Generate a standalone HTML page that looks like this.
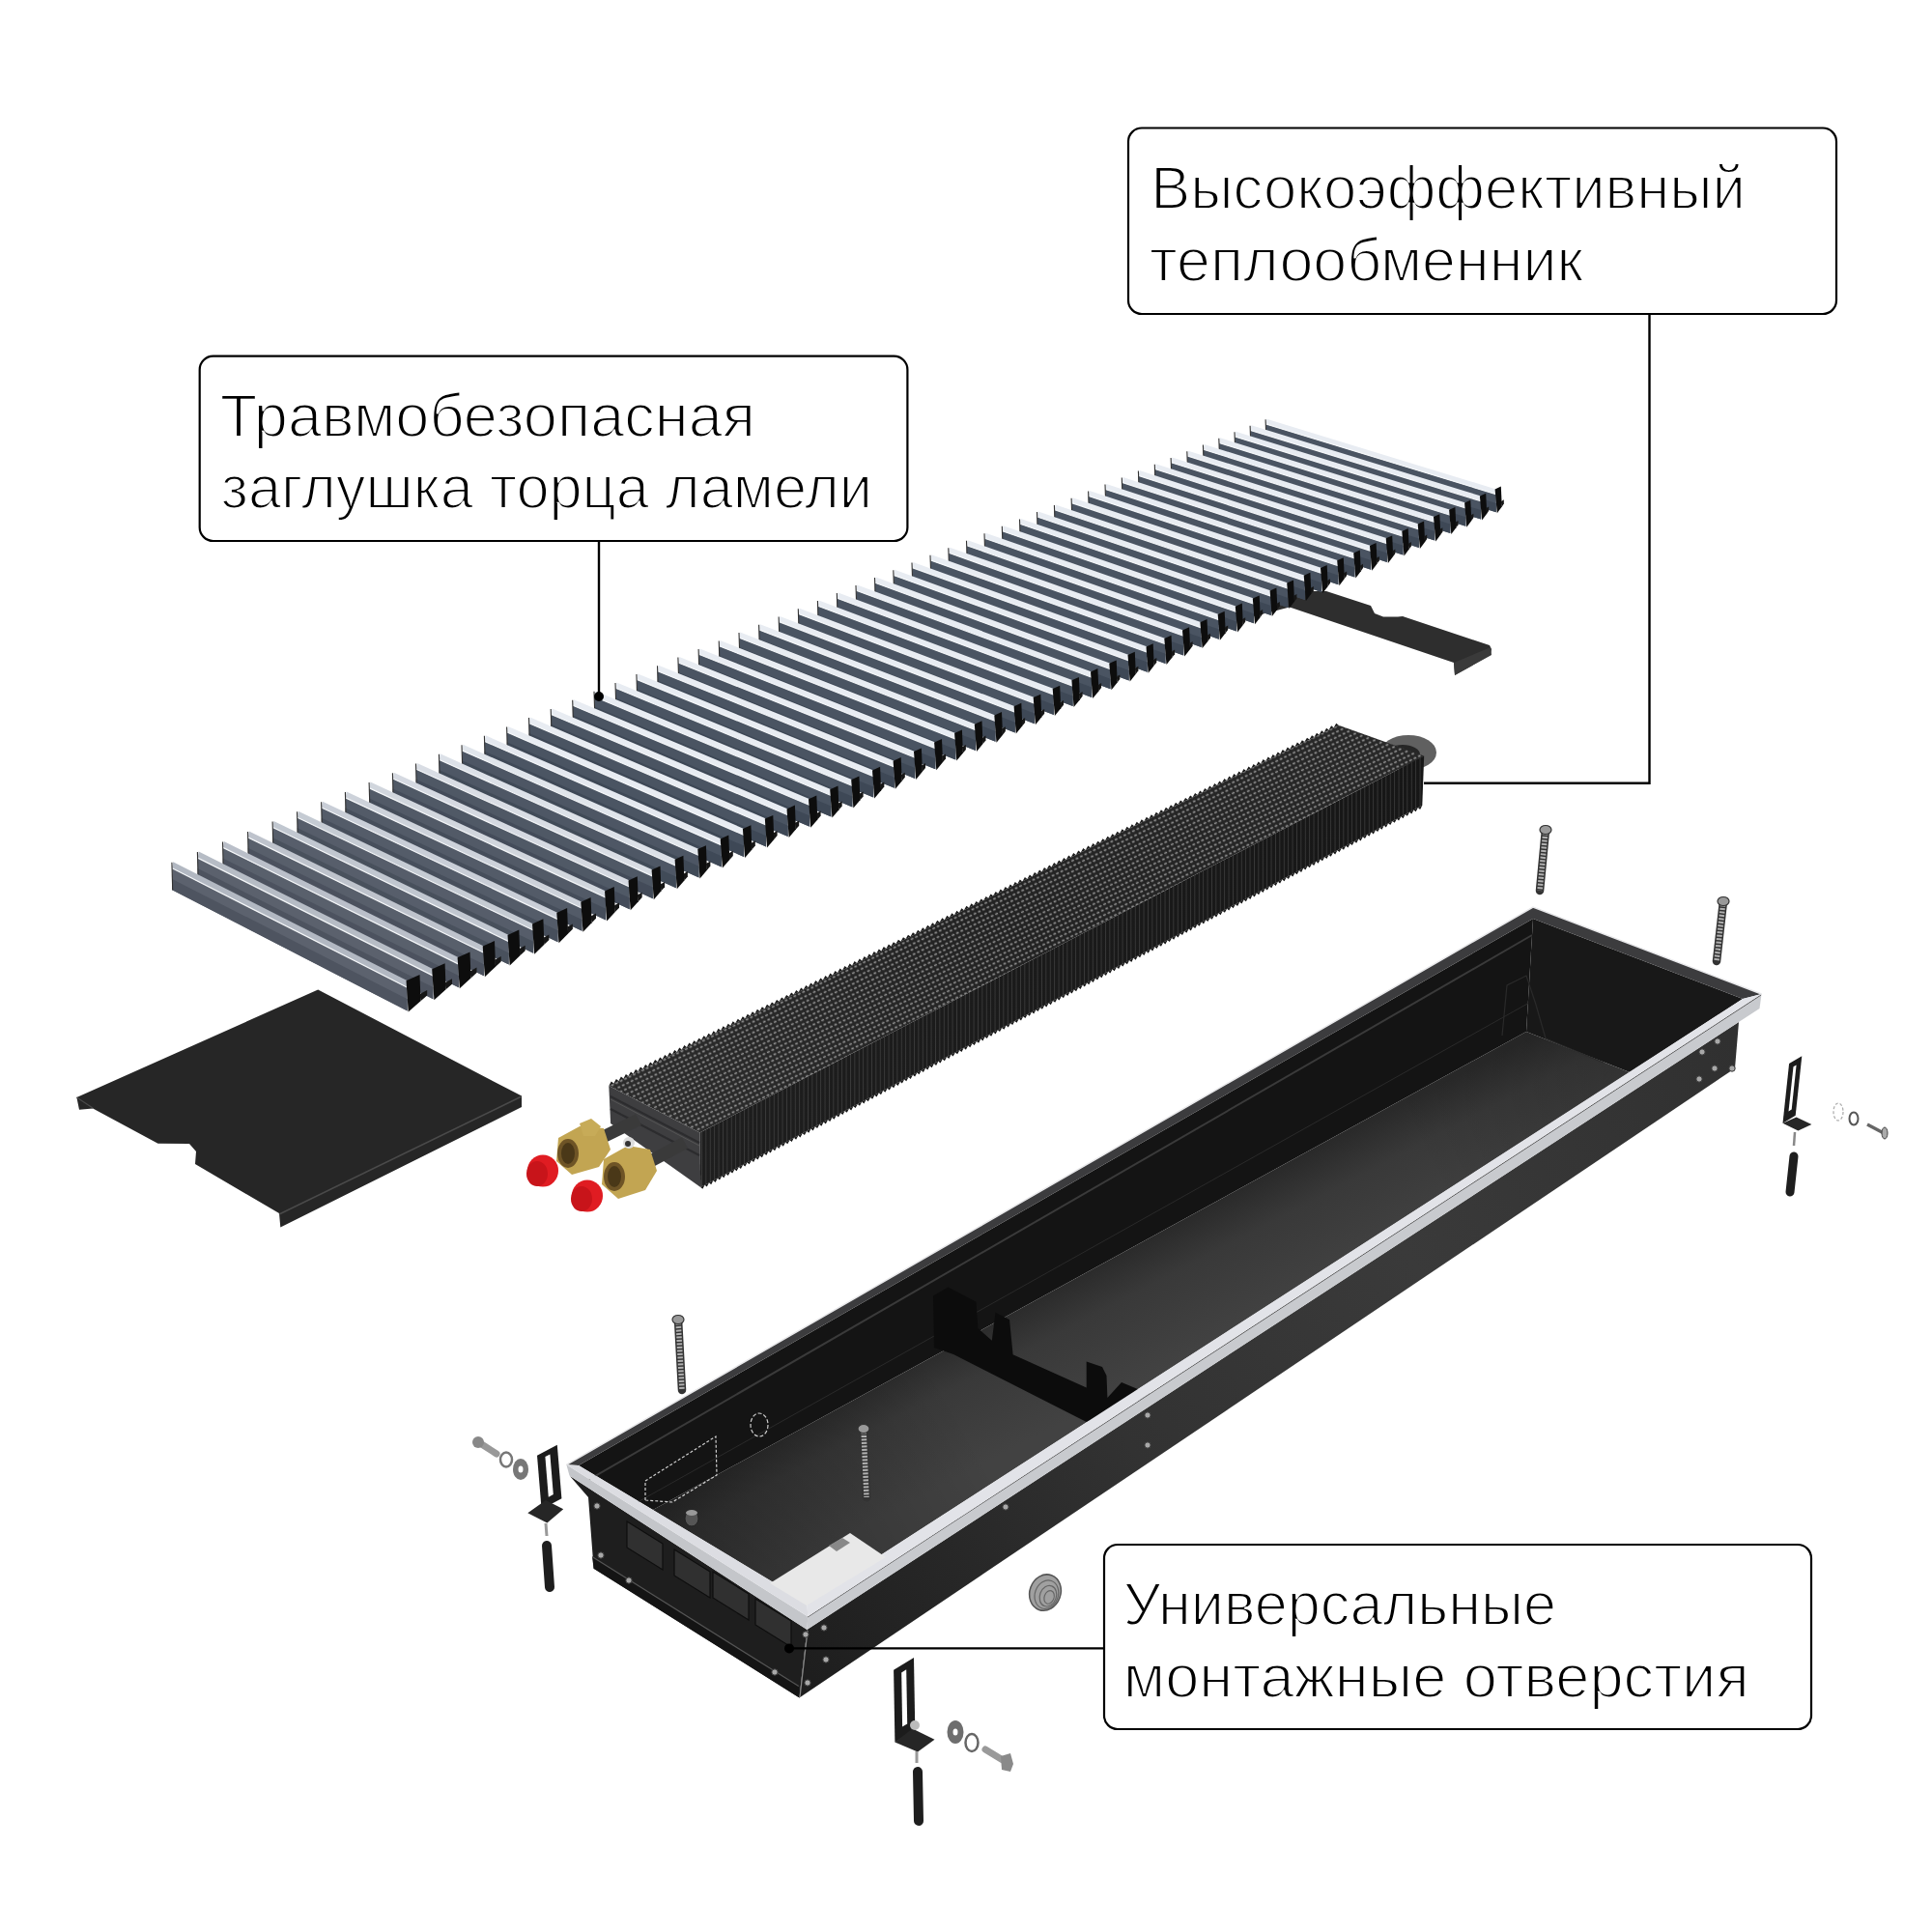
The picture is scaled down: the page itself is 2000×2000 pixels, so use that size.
<!DOCTYPE html>
<html><head><meta charset="utf-8"><style>
html,body{margin:0;padding:0;background:#fff;width:2000px;height:2000px;overflow:hidden}
svg{display:block}
text{font-family:"Liberation Sans",sans-serif;font-size:62.5px;fill:#000;stroke:#fff;stroke-width:2.0px}
</style></head><body>
<svg width="2000" height="2000" viewBox="0 0 2000 2000">
<defs>
<linearGradient id="slatface" x1="0" y1="0" x2="0" y2="1"><stop offset="0" stop-color="#6f7580"/><stop offset="1" stop-color="#5a5f68"/></linearGradient>
<linearGradient id="hetop" x1="0" y1="1" x2="1" y2="0"><stop offset="0" stop-color="#2c2c2c"/><stop offset="0.5" stop-color="#222"/><stop offset="1" stop-color="#282828"/></linearGradient>
<linearGradient id="heside" x1="0" y1="1" x2="1" y2="0"><stop offset="0" stop-color="#1e1e1e"/><stop offset="1" stop-color="#161616"/></linearGradient>
<pattern id="streaks" width="4.4" height="40" patternUnits="userSpaceOnUse"><rect x="0" y="0" width="0.9" height="40" fill="#5a5a5a"/></pattern>
<pattern id="dots" width="5" height="5" patternUnits="userSpaceOnUse" patternTransform="rotate(-26)"><rect width="5" height="5" fill="none"/><ellipse cx="2.5" cy="2.5" rx="1.6" ry="1.0" fill="#e8e8e8"/></pattern>
<linearGradient id="bodyface" gradientUnits="userSpaceOnUse" x1="830" y1="1720" x2="1800" y2="1080"><stop offset="0" stop-color="#1e1e1e"/><stop offset="0.35" stop-color="#323232"/><stop offset="0.65" stop-color="#3a3a3a"/><stop offset="1" stop-color="#303030"/></linearGradient>
<linearGradient id="floor" gradientUnits="userSpaceOnUse" x1="1180" y1="1285" x2="1240" y2="1400"><stop offset="0" stop-color="#2a2a2a"/><stop offset="0.35" stop-color="#393939"/><stop offset="1" stop-color="#424242"/></linearGradient>
<linearGradient id="floorshade" gradientUnits="userSpaceOnUse" x1="700" y1="1600" x2="1650" y2="1080"><stop offset="0" stop-color="#000" stop-opacity="0.3"/><stop offset="0.3" stop-color="#000" stop-opacity="0"/><stop offset="0.8" stop-color="#000" stop-opacity="0"/><stop offset="1" stop-color="#000" stop-opacity="0.15"/></linearGradient>
</defs>
<rect width="2000" height="2000" fill="#fff"/>
<rect x="1168" y="132.5" width="733" height="192.5" rx="14" fill="none" stroke="#000" stroke-width="2.2"/>
<rect x="206.7" y="368.7" width="732.7" height="191.3" rx="14" fill="none" stroke="#000" stroke-width="2.2"/>
<rect x="1143" y="1599" width="732" height="191" rx="14" fill="none" stroke="#000" stroke-width="2.2"/>
<polygon fill="#2e2e2e" points="1290,612 1373,612 1419,627 1423,635 1432,638.5 1447,638.5 1452,638 1542,668 1544,672 1543,678 1506,699 1505,686 1335,628.5 1290,640"/>
<polygon fill="#3a3a3a" points="1505,686 1543,670 1544,678 1506,699"/>
<polygon fill="#4a5462" points="1310.4,438.9 1548.8,511.7 1548.8,530.3 1310.4,456.3"/>
<polygon fill="#3e4856" points="1310.4,447.5 1548.8,520.9 1548.8,530.3 1310.4,456.3"/>
<polygon fill="#e8ecf2" points="1311.4,433.7 1548.8,506.4 1548.8,511.7 1310.4,438.9"/>
<line x1="1310.4" y1="438.9" x2="1548.8" y2="511.7" stroke="#f4f6f8" stroke-width="1.2"/>
<line x1="1310.1" y1="434.2" x2="1310.9" y2="456.3" stroke="#333" stroke-width="1.1"/>
<polygon fill="#0d0d0d" points="1547.6,506.4 1553.8,503.6 1554.8,524.6 1549.8,531.3"/>
<polygon fill="#161616" points="1553.8,519.2 1556.8,517.3 1556.8,521.6 1554.8,524.6"/>
<polygon fill="#4a5462" points="1294.4,445.4 1533.1,518.8 1533.1,537.5 1294.4,462.9"/>
<polygon fill="#3e4856" points="1294.4,454.0 1533.1,528.1 1533.1,537.5 1294.4,462.9"/>
<polygon fill="#e8ecf2" points="1295.4,440.2 1533.1,513.5 1533.1,518.8 1294.4,445.4"/>
<line x1="1294.4" y1="445.4" x2="1533.1" y2="518.8" stroke="#f4f6f8" stroke-width="1.2"/>
<line x1="1294.1" y1="440.7" x2="1294.9" y2="462.9" stroke="#333" stroke-width="1.1"/>
<polygon fill="#0d0d0d" points="1531.9,513.5 1538.2,510.7 1539.2,531.7 1534.1,538.5"/>
<polygon fill="#161616" points="1538.2,526.3 1541.2,524.5 1541.2,528.7 1539.2,531.7"/>
<polygon fill="#4a5462" points="1278.3,451.9 1517.3,526.0 1517.3,544.8 1278.3,469.5"/>
<polygon fill="#3e4856" points="1278.3,460.6 1517.3,535.3 1517.3,544.8 1278.3,469.5"/>
<polygon fill="#e8ecf2" points="1279.3,446.8 1517.3,520.6 1517.3,526.0 1278.3,451.9"/>
<line x1="1278.3" y1="451.9" x2="1517.3" y2="526.0" stroke="#f4f6f8" stroke-width="1.2"/>
<line x1="1278.0" y1="447.3" x2="1278.8" y2="469.5" stroke="#333" stroke-width="1.1"/>
<polygon fill="#0d0d0d" points="1516.1,520.6 1522.3,517.8 1523.3,539.0 1518.3,545.8"/>
<polygon fill="#161616" points="1522.3,533.5 1525.4,531.7 1525.4,535.9 1523.3,539.0"/>
<polygon fill="#4a5462" points="1262.1,458.5 1501.3,533.2 1501.3,552.1 1262.1,476.2"/>
<polygon fill="#3e4856" points="1262.1,467.2 1501.3,542.6 1501.3,552.1 1262.1,476.2"/>
<polygon fill="#e8ecf2" points="1263.1,453.3 1501.3,527.8 1501.3,533.2 1262.1,458.5"/>
<line x1="1262.1" y1="458.5" x2="1501.3" y2="533.2" stroke="#f4f6f8" stroke-width="1.2"/>
<line x1="1261.8" y1="453.8" x2="1262.6" y2="476.2" stroke="#333" stroke-width="1.1"/>
<polygon fill="#0d0d0d" points="1500.1,527.8 1506.4,525.0 1507.4,546.2 1502.3,553.1"/>
<polygon fill="#161616" points="1506.4,540.8 1509.5,538.9 1509.5,543.2 1507.4,546.2"/>
<polygon fill="#4a5462" points="1245.7,465.2 1485.2,540.5 1485.2,559.5 1245.7,482.9"/>
<polygon fill="#3e4856" points="1245.7,473.9 1485.2,549.9 1485.2,559.5 1245.7,482.9"/>
<polygon fill="#e8ecf2" points="1246.7,460.0 1485.2,535.1 1485.2,540.5 1245.7,465.2"/>
<line x1="1245.7" y1="465.2" x2="1485.2" y2="540.5" stroke="#f4f6f8" stroke-width="1.2"/>
<line x1="1245.4" y1="460.5" x2="1246.2" y2="482.9" stroke="#333" stroke-width="1.1"/>
<polygon fill="#0d0d0d" points="1484.0,535.1 1490.3,532.3 1491.3,553.6 1486.2,560.5"/>
<polygon fill="#161616" points="1490.3,548.1 1493.4,546.2 1493.4,550.5 1491.3,553.6"/>
<polygon fill="#4a5462" points="1229.1,471.9 1468.9,547.9 1468.9,566.9 1229.1,489.7"/>
<polygon fill="#3e4856" points="1229.1,480.7 1468.9,557.4 1468.9,566.9 1229.1,489.7"/>
<polygon fill="#e8ecf2" points="1230.1,466.7 1468.9,542.5 1468.9,547.9 1229.1,471.9"/>
<line x1="1229.1" y1="471.9" x2="1468.9" y2="547.9" stroke="#f4f6f8" stroke-width="1.2"/>
<line x1="1228.8" y1="467.2" x2="1229.6" y2="489.7" stroke="#333" stroke-width="1.1"/>
<polygon fill="#0d0d0d" points="1467.7,542.5 1474.1,539.6 1475.1,561.0 1469.9,567.9"/>
<polygon fill="#161616" points="1474.1,555.5 1477.2,553.6 1477.2,557.9 1475.1,561.0"/>
<polygon fill="#4a5462" points="1212.4,478.7 1452.5,555.3 1452.5,574.5 1212.4,496.5"/>
<polygon fill="#3e4856" points="1212.4,487.5 1452.5,564.8 1452.5,574.5 1212.4,496.5"/>
<polygon fill="#e8ecf2" points="1213.4,473.4 1452.5,549.9 1452.5,555.3 1212.4,478.7"/>
<line x1="1212.4" y1="478.7" x2="1452.5" y2="555.3" stroke="#f4f6f8" stroke-width="1.2"/>
<line x1="1212.1" y1="473.9" x2="1212.9" y2="496.5" stroke="#333" stroke-width="1.1"/>
<polygon fill="#0d0d0d" points="1451.3,549.9 1457.7,547.0 1458.7,568.5 1453.5,575.5"/>
<polygon fill="#161616" points="1457.7,562.9 1460.9,561.0 1460.9,565.4 1458.7,568.5"/>
<polygon fill="#4a5462" points="1195.6,485.5 1435.9,562.8 1435.9,582.0 1195.6,503.5"/>
<polygon fill="#3e4856" points="1195.6,494.4 1435.9,572.4 1435.9,582.0 1195.6,503.5"/>
<polygon fill="#e8ecf2" points="1196.6,480.2 1435.9,557.3 1435.9,562.8 1195.6,485.5"/>
<line x1="1195.6" y1="485.5" x2="1435.9" y2="562.8" stroke="#f4f6f8" stroke-width="1.2"/>
<line x1="1195.3" y1="480.7" x2="1196.1" y2="503.5" stroke="#333" stroke-width="1.1"/>
<polygon fill="#0d0d0d" points="1434.7,557.3 1441.2,554.4 1442.2,576.0 1436.9,583.0"/>
<polygon fill="#161616" points="1441.2,570.5 1444.4,568.5 1444.4,572.9 1442.2,576.0"/>
<polygon fill="#4a5462" points="1178.7,492.4 1419.2,570.4 1419.2,589.7 1178.7,510.4"/>
<polygon fill="#3e4856" points="1178.7,501.3 1419.2,580.0 1419.2,589.7 1178.7,510.4"/>
<polygon fill="#e8ecf2" points="1179.7,487.1 1419.2,564.9 1419.2,570.4 1178.7,492.4"/>
<line x1="1178.7" y1="492.4" x2="1419.2" y2="570.4" stroke="#f4f6f8" stroke-width="1.2"/>
<line x1="1178.4" y1="487.6" x2="1179.2" y2="510.4" stroke="#333" stroke-width="1.1"/>
<polygon fill="#0d0d0d" points="1418.0,564.9 1424.6,562.0 1425.6,583.6 1420.2,590.7"/>
<polygon fill="#161616" points="1424.6,578.0 1427.8,576.1 1427.8,580.5 1425.6,583.6"/>
<polygon fill="#4a5462" points="1161.6,499.4 1402.4,578.0 1402.4,597.4 1161.6,517.4"/>
<polygon fill="#3e4856" points="1161.6,508.3 1402.4,587.6 1402.4,597.4 1161.6,517.4"/>
<polygon fill="#e8ecf2" points="1162.6,494.0 1402.4,572.5 1402.4,578.0 1161.6,499.4"/>
<line x1="1161.6" y1="499.4" x2="1402.4" y2="578.0" stroke="#f4f6f8" stroke-width="1.2"/>
<line x1="1161.3" y1="494.5" x2="1162.1" y2="517.4" stroke="#333" stroke-width="1.1"/>
<polygon fill="#0d0d0d" points="1401.2,572.5 1407.8,569.6 1408.8,591.3 1403.4,598.4"/>
<polygon fill="#161616" points="1407.8,585.7 1411.0,583.7 1411.0,588.1 1408.8,591.3"/>
<polygon fill="#4a5462" points="1144.3,506.4 1385.4,585.7 1385.4,605.2 1144.3,524.5"/>
<polygon fill="#3e4856" points="1144.3,515.3 1385.4,595.4 1385.4,605.2 1144.3,524.5"/>
<polygon fill="#e8ecf2" points="1145.3,501.0 1385.4,580.2 1385.4,585.7 1144.3,506.4"/>
<line x1="1144.3" y1="506.4" x2="1385.4" y2="585.7" stroke="#f4f6f8" stroke-width="1.2"/>
<line x1="1144.0" y1="501.5" x2="1144.8" y2="524.5" stroke="#333" stroke-width="1.1"/>
<polygon fill="#0d0d0d" points="1384.2,580.2 1390.8,577.2 1391.8,599.1 1386.4,606.2"/>
<polygon fill="#161616" points="1390.8,593.4 1394.1,591.5 1394.1,595.9 1391.8,599.1"/>
<polygon fill="#4a5462" points="1126.9,513.4 1368.2,593.5 1368.2,613.1 1126.9,531.7"/>
<polygon fill="#3e4856" points="1126.9,522.4 1368.2,603.2 1368.2,613.1 1126.9,531.7"/>
<polygon fill="#e8ecf2" points="1127.9,508.1 1368.2,587.9 1368.2,593.5 1126.9,513.4"/>
<line x1="1126.9" y1="513.4" x2="1368.2" y2="593.5" stroke="#f4f6f8" stroke-width="1.2"/>
<line x1="1126.6" y1="508.6" x2="1127.4" y2="531.7" stroke="#333" stroke-width="1.1"/>
<polygon fill="#0d0d0d" points="1367.0,587.9 1373.7,584.9 1374.7,606.9 1369.2,614.1"/>
<polygon fill="#161616" points="1373.7,601.2 1377.0,599.2 1377.0,603.7 1374.7,606.9"/>
<polygon fill="#4a5462" points="1109.4,520.6 1350.9,601.4 1350.9,621.0 1109.4,538.9"/>
<polygon fill="#3e4856" points="1109.4,529.6 1350.9,611.1 1350.9,621.0 1109.4,538.9"/>
<polygon fill="#e8ecf2" points="1110.4,515.2 1350.9,595.7 1350.9,601.4 1109.4,520.6"/>
<line x1="1109.4" y1="520.6" x2="1350.9" y2="601.4" stroke="#f4f6f8" stroke-width="1.2"/>
<line x1="1109.1" y1="515.7" x2="1109.9" y2="538.9" stroke="#333" stroke-width="1.1"/>
<polygon fill="#0d0d0d" points="1349.7,595.7 1356.4,592.7 1357.4,614.8 1351.9,622.0"/>
<polygon fill="#161616" points="1356.4,609.1 1359.8,607.1 1359.8,611.5 1357.4,614.8"/>
<polygon fill="#4a5462" points="1091.7,527.8 1333.4,609.3 1333.4,629.0 1091.7,546.2"/>
<polygon fill="#3e4856" points="1091.7,536.8 1333.4,619.0 1333.4,629.0 1091.7,546.2"/>
<polygon fill="#e8ecf2" points="1092.7,522.4 1333.4,603.6 1333.4,609.3 1091.7,527.8"/>
<line x1="1091.7" y1="527.8" x2="1333.4" y2="609.3" stroke="#f4f6f8" stroke-width="1.2"/>
<line x1="1091.4" y1="522.9" x2="1092.2" y2="546.2" stroke="#333" stroke-width="1.1"/>
<polygon fill="#0d0d0d" points="1332.2,603.6 1339.0,600.6 1340.0,622.7 1334.4,630.0"/>
<polygon fill="#161616" points="1339.0,617.0 1342.4,615.0 1342.4,619.5 1340.0,622.7"/>
<polygon fill="#4a5462" points="1073.8,535.0 1315.8,617.3 1315.8,637.1 1073.8,553.5"/>
<polygon fill="#3e4856" points="1073.8,544.1 1315.8,627.1 1315.8,637.1 1073.8,553.5"/>
<polygon fill="#e8ecf2" points="1074.8,529.6 1315.8,611.6 1315.8,617.3 1073.8,535.0"/>
<line x1="1073.8" y1="535.0" x2="1315.8" y2="617.3" stroke="#f4f6f8" stroke-width="1.2"/>
<line x1="1073.5" y1="530.1" x2="1074.3" y2="553.5" stroke="#333" stroke-width="1.1"/>
<polygon fill="#0d0d0d" points="1314.6,611.6 1321.4,608.5 1322.4,630.8 1316.8,638.1"/>
<polygon fill="#161616" points="1321.4,625.0 1324.8,623.0 1324.8,627.5 1322.4,630.8"/>
<polygon fill="#4a5462" points="1055.8,542.3 1298.0,625.3 1298.0,645.2 1055.8,560.9"/>
<polygon fill="#3e4856" points="1055.8,551.5 1298.0,635.2 1298.0,645.2 1055.8,560.9"/>
<polygon fill="#e8ecf2" points="1056.8,536.9 1298.0,619.6 1298.0,625.3 1055.8,542.3"/>
<line x1="1055.8" y1="542.3" x2="1298.0" y2="625.3" stroke="#f4f6f8" stroke-width="1.2"/>
<line x1="1055.5" y1="537.4" x2="1056.3" y2="560.9" stroke="#333" stroke-width="1.1"/>
<polygon fill="#0d0d0d" points="1296.8,619.6 1303.7,616.5 1304.7,638.9 1299.0,646.2"/>
<polygon fill="#161616" points="1303.7,633.1 1307.1,631.1 1307.1,635.6 1304.7,638.9"/>
<polygon fill="#4a5462" points="1037.6,549.7 1280.0,633.4 1280.0,653.4 1037.6,568.3"/>
<polygon fill="#3e4856" points="1037.6,558.9 1280.0,643.4 1280.0,653.4 1037.6,568.3"/>
<polygon fill="#e8ecf2" points="1038.6,544.2 1280.0,627.7 1280.0,633.4 1037.6,549.7"/>
<line x1="1037.6" y1="549.7" x2="1280.0" y2="633.4" stroke="#f4f6f8" stroke-width="1.2"/>
<line x1="1037.3" y1="544.7" x2="1038.1" y2="568.3" stroke="#333" stroke-width="1.1"/>
<polygon fill="#0d0d0d" points="1278.8,627.7 1285.8,624.6 1286.8,647.1 1281.0,654.4"/>
<polygon fill="#161616" points="1285.8,641.3 1289.2,639.2 1289.2,643.7 1286.8,647.1"/>
<polygon fill="#4a5462" points="1019.3,557.2 1261.9,641.7 1261.9,661.7 1019.3,575.9"/>
<polygon fill="#3e4856" points="1019.3,566.4 1261.9,651.6 1261.9,661.7 1019.3,575.9"/>
<polygon fill="#e8ecf2" points="1020.3,551.7 1261.9,635.9 1261.9,641.7 1019.3,557.2"/>
<line x1="1019.3" y1="557.2" x2="1261.9" y2="641.7" stroke="#f4f6f8" stroke-width="1.2"/>
<line x1="1019.0" y1="552.2" x2="1019.8" y2="575.9" stroke="#333" stroke-width="1.1"/>
<polygon fill="#0d0d0d" points="1260.7,635.9 1267.7,632.8 1268.7,655.3 1262.9,662.7"/>
<polygon fill="#161616" points="1267.7,649.5 1271.2,647.4 1271.2,652.0 1268.7,655.3"/>
<polygon fill="#4a5462" points="1000.8,564.7 1243.6,649.9 1243.6,670.1 1000.8,583.5"/>
<polygon fill="#3e4856" points="1000.8,573.9 1243.6,659.9 1243.6,670.1 1000.8,583.5"/>
<polygon fill="#e8ecf2" points="1001.8,559.2 1243.6,644.2 1243.6,649.9 1000.8,564.7"/>
<line x1="1000.8" y1="564.7" x2="1243.6" y2="649.9" stroke="#f4f6f8" stroke-width="1.2"/>
<line x1="1000.5" y1="559.7" x2="1001.3" y2="583.5" stroke="#333" stroke-width="1.1"/>
<polygon fill="#0d0d0d" points="1242.4,644.2 1249.5,641.0 1250.5,663.7 1244.6,671.1"/>
<polygon fill="#161616" points="1249.5,657.8 1253.0,655.7 1253.0,660.3 1250.5,663.7"/>
<polygon fill="#4a5462" points="982.1,572.3 1225.2,658.3 1225.2,678.6 982.1,591.1"/>
<polygon fill="#3e4856" points="982.1,581.6 1225.2,668.4 1225.2,678.6 982.1,591.1"/>
<polygon fill="#e8ecf2" points="983.1,566.7 1225.2,652.5 1225.2,658.3 982.1,572.3"/>
<line x1="982.1" y1="572.3" x2="1225.2" y2="658.3" stroke="#f4f6f8" stroke-width="1.2"/>
<line x1="981.8" y1="567.2" x2="982.6" y2="591.1" stroke="#333" stroke-width="1.1"/>
<polygon fill="#0d0d0d" points="1224.0,652.5 1231.1,649.3 1232.1,672.1 1226.2,679.6"/>
<polygon fill="#161616" points="1231.1,666.2 1234.6,664.1 1234.6,668.7 1232.1,672.1"/>
<polygon fill="#4a5462" points="963.3,579.9 1206.5,666.7 1206.5,687.1 963.3,598.9"/>
<polygon fill="#3e4856" points="963.3,589.3 1206.5,676.8 1206.5,687.1 963.3,598.9"/>
<polygon fill="#e8ecf2" points="964.3,574.3 1206.5,660.9 1206.5,666.7 963.3,579.9"/>
<line x1="963.3" y1="579.9" x2="1206.5" y2="666.7" stroke="#f4f6f8" stroke-width="1.2"/>
<line x1="963.0" y1="574.8" x2="963.8" y2="598.9" stroke="#333" stroke-width="1.1"/>
<polygon fill="#0d0d0d" points="1205.3,660.9 1212.5,657.7 1213.5,680.6 1207.5,688.1"/>
<polygon fill="#161616" points="1212.5,674.7 1216.1,672.5 1216.1,677.2 1213.5,680.6"/>
<polygon fill="#4a5462" points="944.3,587.6 1187.7,675.3 1187.7,695.7 944.3,606.7"/>
<polygon fill="#3e4856" points="944.3,597.0 1187.7,685.4 1187.7,695.7 944.3,606.7"/>
<polygon fill="#e8ecf2" points="945.3,582.0 1187.7,669.4 1187.7,675.3 944.3,587.6"/>
<line x1="944.3" y1="587.6" x2="1187.7" y2="675.3" stroke="#f4f6f8" stroke-width="1.2"/>
<line x1="944.0" y1="582.5" x2="944.8" y2="606.7" stroke="#333" stroke-width="1.1"/>
<polygon fill="#0d0d0d" points="1186.5,669.4 1193.7,666.2 1194.7,689.1 1188.7,696.7"/>
<polygon fill="#161616" points="1193.7,683.2 1197.3,681.1 1197.3,685.7 1194.7,689.1"/>
<polygon fill="#4a5462" points="925.1,595.4 1168.7,683.9 1168.7,704.4 925.1,614.5"/>
<polygon fill="#3e4856" points="925.1,604.8 1168.7,694.1 1168.7,704.4 925.1,614.5"/>
<polygon fill="#e8ecf2" points="926.1,589.8 1168.7,678.0 1168.7,683.9 925.1,595.4"/>
<line x1="925.1" y1="595.4" x2="1168.7" y2="683.9" stroke="#f4f6f8" stroke-width="1.2"/>
<line x1="924.8" y1="590.3" x2="925.6" y2="614.5" stroke="#333" stroke-width="1.1"/>
<polygon fill="#0d0d0d" points="1167.5,678.0 1174.8,674.8 1175.8,697.8 1169.7,705.4"/>
<polygon fill="#161616" points="1174.8,691.8 1178.4,689.7 1178.4,694.3 1175.8,697.8"/>
<polygon fill="#4a5462" points="905.8,603.3 1149.5,692.6 1149.5,713.2 905.8,622.5"/>
<polygon fill="#3e4856" points="905.8,612.7 1149.5,702.8 1149.5,713.2 905.8,622.5"/>
<polygon fill="#e8ecf2" points="906.8,597.6 1149.5,686.7 1149.5,692.6 905.8,603.3"/>
<line x1="905.8" y1="603.3" x2="1149.5" y2="692.6" stroke="#f4f6f8" stroke-width="1.2"/>
<line x1="905.5" y1="598.1" x2="906.3" y2="622.5" stroke="#333" stroke-width="1.1"/>
<polygon fill="#0d0d0d" points="1148.3,686.7 1155.7,683.4 1156.7,706.5 1150.5,714.2"/>
<polygon fill="#161616" points="1155.7,700.5 1159.3,698.4 1159.3,703.1 1156.7,706.5"/>
<polygon fill="#4a5462" points="886.3,611.2 1130.2,701.3 1130.2,722.1 886.3,630.5"/>
<polygon fill="#3e4856" points="886.3,620.7 1130.2,711.6 1130.2,722.1 886.3,630.5"/>
<polygon fill="#e8ecf2" points="887.3,605.5 1130.2,695.4 1130.2,701.3 886.3,611.2"/>
<line x1="886.3" y1="611.2" x2="1130.2" y2="701.3" stroke="#f4f6f8" stroke-width="1.2"/>
<line x1="886.0" y1="606.0" x2="886.8" y2="630.5" stroke="#333" stroke-width="1.1"/>
<polygon fill="#0d0d0d" points="1129.0,695.4 1136.4,692.1 1137.4,715.4 1131.2,723.1"/>
<polygon fill="#161616" points="1136.4,709.3 1140.1,707.1 1140.1,711.9 1137.4,715.4"/>
<polygon fill="#4a5462" points="866.6,619.2 1110.6,710.2 1110.6,731.0 866.6,638.6"/>
<polygon fill="#3e4856" points="866.6,628.8 1110.6,720.5 1110.6,731.0 866.6,638.6"/>
<polygon fill="#e8ecf2" points="867.6,613.5 1110.6,704.2 1110.6,710.2 866.6,619.2"/>
<line x1="866.6" y1="619.2" x2="1110.6" y2="710.2" stroke="#f4f6f8" stroke-width="1.2"/>
<line x1="866.3" y1="614.0" x2="867.1" y2="638.6" stroke="#333" stroke-width="1.1"/>
<polygon fill="#0d0d0d" points="1109.4,704.2 1116.9,700.9 1117.9,724.3 1111.6,732.0"/>
<polygon fill="#161616" points="1116.9,718.2 1120.6,716.0 1120.6,720.7 1117.9,724.3"/>
<polygon fill="#4a5462" points="846.7,627.3 1090.9,719.1 1090.9,740.1 846.7,646.8"/>
<polygon fill="#3e4856" points="846.7,636.9 1090.9,729.5 1090.9,740.1 846.7,646.8"/>
<polygon fill="#e8ecf2" points="847.7,621.6 1090.9,713.1 1090.9,719.1 846.7,627.3"/>
<line x1="846.7" y1="627.3" x2="1090.9" y2="719.1" stroke="#f4f6f8" stroke-width="1.2"/>
<line x1="846.4" y1="622.1" x2="847.2" y2="646.8" stroke="#333" stroke-width="1.1"/>
<polygon fill="#0d0d0d" points="1089.7,713.1 1097.2,709.8 1098.2,733.3 1091.9,741.1"/>
<polygon fill="#161616" points="1097.2,727.2 1101.0,724.9 1101.0,729.7 1098.2,733.3"/>
<polygon fill="#4a5462" points="826.6,635.4 1070.9,728.1 1070.9,749.2 826.6,655.0"/>
<polygon fill="#3e4856" points="826.6,645.1 1070.9,738.6 1070.9,749.2 826.6,655.0"/>
<polygon fill="#e8ecf2" points="827.6,629.7 1070.9,722.1 1070.9,728.1 826.6,635.4"/>
<line x1="826.6" y1="635.4" x2="1070.9" y2="728.1" stroke="#f4f6f8" stroke-width="1.2"/>
<line x1="826.3" y1="630.2" x2="827.1" y2="655.0" stroke="#333" stroke-width="1.1"/>
<polygon fill="#0d0d0d" points="1069.7,722.1 1077.3,718.8 1078.3,742.3 1071.9,750.2"/>
<polygon fill="#161616" points="1077.3,736.2 1081.2,734.0 1081.2,738.8 1078.3,742.3"/>
<polygon fill="#4a5462" points="806.4,643.6 1050.8,737.3 1050.8,758.4 806.4,663.3"/>
<polygon fill="#3e4856" points="806.4,653.4 1050.8,747.7 1050.8,758.4 806.4,663.3"/>
<polygon fill="#e8ecf2" points="807.4,637.9 1050.8,731.2 1050.8,737.3 806.4,643.6"/>
<line x1="806.4" y1="643.6" x2="1050.8" y2="737.3" stroke="#f4f6f8" stroke-width="1.2"/>
<line x1="806.1" y1="638.4" x2="806.9" y2="663.3" stroke="#333" stroke-width="1.1"/>
<polygon fill="#0d0d0d" points="1049.6,731.2 1057.3,727.8 1058.3,751.5 1051.8,759.4"/>
<polygon fill="#161616" points="1057.3,745.4 1061.1,743.1 1061.1,747.9 1058.3,751.5"/>
<polygon fill="#4a5462" points="785.9,651.9 1030.5,746.5 1030.5,767.7 785.9,671.7"/>
<polygon fill="#3e4856" points="785.9,661.7 1030.5,757.0 1030.5,767.7 785.9,671.7"/>
<polygon fill="#e8ecf2" points="786.9,646.2 1030.5,740.4 1030.5,746.5 785.9,651.9"/>
<line x1="785.9" y1="651.9" x2="1030.5" y2="746.5" stroke="#f4f6f8" stroke-width="1.2"/>
<line x1="785.6" y1="646.7" x2="786.4" y2="671.7" stroke="#333" stroke-width="1.1"/>
<polygon fill="#0d0d0d" points="1029.3,740.4 1037.0,737.0 1038.0,760.8 1031.5,768.7"/>
<polygon fill="#161616" points="1037.0,754.6 1040.9,752.3 1040.9,757.1 1038.0,760.8"/>
<polygon fill="#4a5462" points="765.3,660.3 1010.0,755.8 1010.0,777.1 765.3,680.2"/>
<polygon fill="#3e4856" points="765.3,670.1 1010.0,766.3 1010.0,777.1 765.3,680.2"/>
<polygon fill="#e8ecf2" points="766.3,654.5 1010.0,749.7 1010.0,755.8 765.3,660.3"/>
<line x1="765.3" y1="660.3" x2="1010.0" y2="755.8" stroke="#f4f6f8" stroke-width="1.2"/>
<line x1="765.0" y1="655.0" x2="765.8" y2="680.2" stroke="#333" stroke-width="1.1"/>
<polygon fill="#0d0d0d" points="1008.8,749.7 1016.5,746.2 1017.5,770.1 1011.0,778.1"/>
<polygon fill="#161616" points="1016.5,763.9 1020.5,761.6 1020.5,766.5 1017.5,770.1"/>
<polygon fill="#4a5462" points="744.5,668.8 989.3,765.1 989.3,786.6 744.5,688.7"/>
<polygon fill="#3e4856" points="744.5,678.6 989.3,775.8 989.3,786.6 744.5,688.7"/>
<polygon fill="#e8ecf2" points="745.5,663.0 989.3,759.0 989.3,765.1 744.5,668.8"/>
<line x1="744.5" y1="668.8" x2="989.3" y2="765.1" stroke="#f4f6f8" stroke-width="1.2"/>
<line x1="744.2" y1="663.5" x2="745.0" y2="688.7" stroke="#333" stroke-width="1.1"/>
<polygon fill="#0d0d0d" points="988.1,759.0 995.9,755.5 996.9,779.6 990.3,787.6"/>
<polygon fill="#161616" points="995.9,773.3 999.9,771.0 999.9,775.9 996.9,779.6"/>
<polygon fill="#4a5462" points="723.4,677.3 968.3,774.6 968.3,796.2 723.4,697.4"/>
<polygon fill="#3e4856" points="723.4,687.2 968.3,785.3 968.3,796.2 723.4,697.4"/>
<polygon fill="#e8ecf2" points="724.4,671.5 968.3,768.5 968.3,774.6 723.4,677.3"/>
<line x1="723.4" y1="677.3" x2="968.3" y2="774.6" stroke="#f4f6f8" stroke-width="1.2"/>
<line x1="723.1" y1="672.0" x2="723.9" y2="697.4" stroke="#333" stroke-width="1.1"/>
<polygon fill="#0d0d0d" points="967.1,768.5 975.0,765.0 976.0,789.1 969.3,797.2"/>
<polygon fill="#161616" points="975.0,782.8 979.0,780.5 979.0,785.4 976.0,789.1"/>
<polygon fill="#4a5462" points="702.2,686.0 947.2,784.2 947.2,805.9 702.2,706.1"/>
<polygon fill="#3e4856" points="702.2,695.9 947.2,795.0 947.2,805.9 702.2,706.1"/>
<polygon fill="#e8ecf2" points="703.2,680.1 947.2,778.0 947.2,784.2 702.2,686.0"/>
<line x1="702.2" y1="686.0" x2="947.2" y2="784.2" stroke="#f4f6f8" stroke-width="1.2"/>
<line x1="701.9" y1="680.6" x2="702.7" y2="706.1" stroke="#333" stroke-width="1.1"/>
<polygon fill="#0d0d0d" points="946.0,778.0 953.9,774.5 954.9,798.7 948.2,806.9"/>
<polygon fill="#161616" points="953.9,792.4 958.0,790.1 958.0,795.0 954.9,798.7"/>
<polygon fill="#4a5462" points="680.8,694.7 925.8,793.9 925.8,815.7 680.8,714.9"/>
<polygon fill="#3e4856" points="680.8,704.6 925.8,804.7 925.8,815.7 680.8,714.9"/>
<polygon fill="#e8ecf2" points="681.8,688.8 925.8,787.7 925.8,793.9 680.8,694.7"/>
<line x1="680.8" y1="694.7" x2="925.8" y2="793.9" stroke="#f4f6f8" stroke-width="1.2"/>
<line x1="680.5" y1="689.3" x2="681.3" y2="714.9" stroke="#333" stroke-width="1.1"/>
<polygon fill="#0d0d0d" points="924.6,787.7 932.7,784.1 933.7,808.5 926.8,816.7"/>
<polygon fill="#161616" points="932.7,802.1 936.8,799.7 936.8,804.7 933.7,808.5"/>
<polygon fill="#4a5462" points="659.2,703.4 904.2,803.6 904.2,825.6 659.2,723.8"/>
<polygon fill="#3e4856" points="659.2,713.5 904.2,814.5 904.2,825.6 659.2,723.8"/>
<polygon fill="#e8ecf2" points="660.2,697.5 904.2,797.4 904.2,803.6 659.2,703.4"/>
<line x1="659.2" y1="703.4" x2="904.2" y2="803.6" stroke="#f4f6f8" stroke-width="1.2"/>
<line x1="658.9" y1="698.0" x2="659.7" y2="723.8" stroke="#333" stroke-width="1.1"/>
<polygon fill="#0d0d0d" points="903.0,797.4 911.1,793.8 912.1,818.3 905.2,826.6"/>
<polygon fill="#161616" points="911.1,811.9 915.3,809.5 915.3,814.5 912.1,818.3"/>
<polygon fill="#4a5462" points="637.3,712.3 882.4,813.5 882.4,835.5 637.3,732.8"/>
<polygon fill="#3e4856" points="637.3,722.4 882.4,824.4 882.4,835.5 637.3,732.8"/>
<polygon fill="#e8ecf2" points="638.3,706.4 882.4,807.3 882.4,813.5 637.3,712.3"/>
<line x1="637.3" y1="712.3" x2="882.4" y2="813.5" stroke="#f4f6f8" stroke-width="1.2"/>
<line x1="637.0" y1="706.9" x2="637.8" y2="732.8" stroke="#333" stroke-width="1.1"/>
<polygon fill="#0d0d0d" points="881.2,807.3 889.4,803.6 890.4,828.2 883.4,836.5"/>
<polygon fill="#161616" points="889.4,821.8 893.6,819.4 893.6,824.4 890.4,828.2"/>
<polygon fill="#4a5462" points="615.3,721.3 860.4,823.5 860.4,845.6 615.3,741.8"/>
<polygon fill="#3e4856" points="615.3,731.4 860.4,834.5 860.4,845.6 615.3,741.8"/>
<polygon fill="#e8ecf2" points="616.3,715.3 860.4,817.2 860.4,823.5 615.3,721.3"/>
<line x1="615.3" y1="721.3" x2="860.4" y2="823.5" stroke="#f4f6f8" stroke-width="1.2"/>
<line x1="615.0" y1="715.8" x2="615.8" y2="741.8" stroke="#333" stroke-width="1.1"/>
<polygon fill="#0d0d0d" points="859.2,817.2 867.5,813.5 868.5,838.3 861.4,846.6"/>
<polygon fill="#161616" points="867.5,831.8 871.7,829.4 871.7,834.4 868.5,838.3"/>
<polygon fill="#4a5462" points="593.0,730.3 838.2,833.5 838.2,855.8 593.0,751.0"/>
<polygon fill="#3e4856" points="593.0,740.5 838.2,844.6 838.2,855.8 593.0,751.0"/>
<polygon fill="#e8ecf2" points="594.0,724.3 838.2,827.2 838.2,833.5 593.0,730.3"/>
<line x1="593.0" y1="730.3" x2="838.2" y2="833.5" stroke="#f4f6f8" stroke-width="1.2"/>
<line x1="592.7" y1="724.8" x2="593.5" y2="751.0" stroke="#333" stroke-width="1.1"/>
<polygon fill="#0d0d0d" points="837.0,827.2 845.3,823.5 846.3,848.4 839.2,856.8"/>
<polygon fill="#161616" points="845.3,841.9 849.6,839.4 849.6,844.5 846.3,848.4"/>
<polygon fill="#4a5462" points="570.5,739.5 815.7,843.7 815.7,866.1 570.5,760.2"/>
<polygon fill="#3e4856" points="570.5,749.7 815.7,854.8 815.7,866.1 570.5,760.2"/>
<polygon fill="#e8ecf2" points="571.5,733.4 815.7,837.4 815.7,843.7 570.5,739.5"/>
<line x1="570.5" y1="739.5" x2="815.7" y2="843.7" stroke="#f4f6f8" stroke-width="1.2"/>
<line x1="570.2" y1="733.9" x2="571.0" y2="760.2" stroke="#333" stroke-width="1.1"/>
<polygon fill="#0d0d0d" points="814.5,837.4 822.9,833.6 823.9,858.6 816.7,867.1"/>
<polygon fill="#161616" points="822.9,852.1 827.2,849.6 827.2,854.7 823.9,858.6"/>
<polygon fill="#4a5462" points="547.8,748.7 793.0,854.0 793.0,876.5 547.8,769.5"/>
<polygon fill="#3e4856" points="547.8,759.0 793.0,865.2 793.0,876.5 547.8,769.5"/>
<polygon fill="#e8ecf2" points="548.8,742.6 793.0,847.6 793.0,854.0 547.8,748.7"/>
<line x1="547.8" y1="748.7" x2="793.0" y2="854.0" stroke="#f4f6f8" stroke-width="1.2"/>
<line x1="547.5" y1="743.1" x2="548.3" y2="769.5" stroke="#333" stroke-width="1.1"/>
<polygon fill="#0d0d0d" points="791.8,847.6 800.3,843.9 801.3,869.0 794.0,877.5"/>
<polygon fill="#161616" points="800.3,862.4 804.6,859.9 804.6,865.0 801.3,869.0"/>
<polygon fill="#4a5462" points="524.9,758.0 770.1,864.4 770.1,887.0 524.9,778.9"/>
<polygon fill="#3e4856" points="524.9,768.3 770.1,875.6 770.1,887.0 524.9,778.9"/>
<polygon fill="#e8ecf2" points="525.9,751.9 770.1,858.0 770.1,864.4 524.9,758.0"/>
<line x1="524.9" y1="758.0" x2="770.1" y2="864.4" stroke="#f4f6f8" stroke-width="1.2"/>
<line x1="524.6" y1="752.4" x2="525.4" y2="778.9" stroke="#333" stroke-width="1.1"/>
<polygon fill="#0d0d0d" points="768.9,858.0 777.4,854.2 778.4,879.4 771.1,888.0"/>
<polygon fill="#161616" points="777.4,872.9 781.8,870.3 781.8,875.4 778.4,879.4"/>
<polygon fill="#4b5563" points="501.7,767.4 746.9,874.9 746.9,897.6 501.7,788.4"/>
<polygon fill="#3f4957" points="501.7,777.8 746.9,886.2 746.9,897.6 501.7,788.4"/>
<polygon fill="#e4e8ef" points="502.7,761.3 746.9,868.5 746.9,874.9 501.7,767.4"/>
<line x1="501.7" y1="767.4" x2="746.9" y2="874.9" stroke="#f4f6f8" stroke-width="1.2"/>
<line x1="501.4" y1="761.8" x2="502.2" y2="788.4" stroke="#333" stroke-width="1.1"/>
<polygon fill="#0d0d0d" points="745.7,868.5 754.3,864.6 755.3,890.0 747.9,898.6"/>
<polygon fill="#161616" points="754.3,883.4 758.8,880.8 758.8,886.0 755.3,890.0"/>
<polygon fill="#4d5664" points="478.3,776.9 723.5,885.5 723.5,908.4 478.3,798.1"/>
<polygon fill="#404a57" points="478.3,787.3 723.5,896.8 723.5,908.4 478.3,798.1"/>
<polygon fill="#e0e5eb" points="479.3,770.8 723.5,879.0 723.5,885.5 478.3,776.9"/>
<line x1="478.3" y1="776.9" x2="723.5" y2="885.5" stroke="#f4f6f8" stroke-width="1.2"/>
<line x1="478.0" y1="771.3" x2="478.8" y2="798.1" stroke="#333" stroke-width="1.1"/>
<polygon fill="#0d0d0d" points="722.3,879.0 730.9,875.2 731.9,900.7 724.5,909.4"/>
<polygon fill="#161616" points="730.9,894.0 735.4,891.4 735.4,896.6 731.9,900.7"/>
<polygon fill="#4e5765" points="454.7,786.5 699.8,896.2 699.8,919.2 454.7,807.8"/>
<polygon fill="#414b58" points="454.7,797.0 699.8,907.6 699.8,919.2 454.7,807.8"/>
<polygon fill="#dce1e8" points="455.7,780.3 699.8,889.7 699.8,896.2 454.7,786.5"/>
<line x1="454.7" y1="786.5" x2="699.8" y2="896.2" stroke="#f4f6f8" stroke-width="1.2"/>
<line x1="454.4" y1="780.8" x2="455.2" y2="807.8" stroke="#333" stroke-width="1.1"/>
<polygon fill="#0d0d0d" points="698.6,889.7 707.4,885.8 708.4,911.4 700.8,920.2"/>
<polygon fill="#161616" points="707.4,904.8 711.9,902.1 711.9,907.4 708.4,911.4"/>
<polygon fill="#4f5865" points="430.8,796.2 675.8,907.1 675.8,930.2 430.8,817.6"/>
<polygon fill="#434b59" points="430.8,806.7 675.8,918.5 675.8,930.2 430.8,817.6"/>
<polygon fill="#d9dde4" points="431.8,790.0 675.8,900.5 675.8,907.1 430.8,796.2"/>
<line x1="430.8" y1="796.2" x2="675.8" y2="907.1" stroke="#f4f6f8" stroke-width="1.2"/>
<line x1="430.5" y1="790.5" x2="431.3" y2="817.6" stroke="#333" stroke-width="1.1"/>
<polygon fill="#0d0d0d" points="674.6,900.5 683.5,896.6 684.5,922.3 676.8,931.2"/>
<polygon fill="#161616" points="683.5,915.6 688.1,913.0 688.1,918.2 684.5,922.3"/>
<polygon fill="#505966" points="406.7,806.0 651.7,918.0 651.7,941.2 406.7,827.5"/>
<polygon fill="#444c5a" points="406.7,816.6 651.7,929.5 651.7,941.2 406.7,827.5"/>
<polygon fill="#d5d9e1" points="407.7,799.8 651.7,911.5 651.7,918.0 406.7,806.0"/>
<line x1="406.7" y1="806.0" x2="651.7" y2="918.0" stroke="#f4f6f8" stroke-width="1.2"/>
<line x1="406.4" y1="800.3" x2="407.2" y2="827.5" stroke="#333" stroke-width="1.1"/>
<polygon fill="#0d0d0d" points="650.5,911.5 659.8,907.3 660.8,933.2 652.7,942.2"/>
<polygon fill="#161616" points="659.8,926.5 664.7,923.7 664.7,928.9 660.8,933.2"/>
<polygon fill="#525a67" points="382.4,815.9 627.2,929.1 627.2,952.4 382.4,837.5"/>
<polygon fill="#454d5a" points="382.4,826.5 627.2,940.7 627.2,952.4 382.4,837.5"/>
<polygon fill="#d1d6dd" points="383.4,809.6 627.2,922.5 627.2,929.1 382.4,815.9"/>
<line x1="382.4" y1="815.9" x2="627.2" y2="929.1" stroke="#f4f6f8" stroke-width="1.2"/>
<line x1="382.1" y1="810.1" x2="382.9" y2="837.5" stroke="#333" stroke-width="1.1"/>
<polygon fill="#0d0d0d" points="626.0,922.5 635.8,918.1 636.8,944.1 628.2,953.4"/>
<polygon fill="#161616" points="635.8,937.4 641.0,934.5 641.0,939.7 636.8,944.1"/>
<polygon fill="#535b68" points="357.7,825.9 602.5,940.3 602.5,963.8 357.7,847.6"/>
<polygon fill="#464e5b" points="357.7,836.6 602.5,951.9 602.5,963.8 357.7,847.6"/>
<polygon fill="#cdd2da" points="358.7,819.6 602.5,933.7 602.5,940.3 357.7,825.9"/>
<line x1="357.7" y1="825.9" x2="602.5" y2="940.3" stroke="#f4f6f8" stroke-width="1.2"/>
<line x1="357.4" y1="820.1" x2="358.2" y2="847.6" stroke="#333" stroke-width="1.1"/>
<polygon fill="#0d0d0d" points="601.3,933.7 611.6,929.1 612.6,955.2 603.5,964.8"/>
<polygon fill="#161616" points="611.6,948.4 617.0,945.4 617.0,950.7 612.6,955.2"/>
<polygon fill="#545c69" points="332.9,836.0 577.5,951.6 577.5,975.2 332.9,857.8"/>
<polygon fill="#474f5c" points="332.9,846.7 577.5,963.3 577.5,975.2 332.9,857.8"/>
<polygon fill="#c9ced7" points="333.9,829.7 577.5,944.9 577.5,951.6 332.9,836.0"/>
<line x1="332.9" y1="836.0" x2="577.5" y2="951.6" stroke="#f4f6f8" stroke-width="1.2"/>
<line x1="332.6" y1="830.2" x2="333.4" y2="857.8" stroke="#333" stroke-width="1.1"/>
<polygon fill="#0d0d0d" points="576.3,944.9 587.1,940.1 588.1,966.4 578.5,976.2"/>
<polygon fill="#161616" points="587.1,959.6 592.9,956.4 592.9,961.7 588.1,966.4"/>
<polygon fill="#565d6a" points="307.8,846.2 552.2,963.0 552.2,986.8 307.8,868.1"/>
<polygon fill="#48505c" points="307.8,857.0 552.2,974.8 552.2,986.8 307.8,868.1"/>
<polygon fill="#c5cbd3" points="308.8,839.8 552.2,956.4 552.2,963.0 307.8,846.2"/>
<line x1="307.8" y1="846.2" x2="552.2" y2="963.0" stroke="#f4f6f8" stroke-width="1.2"/>
<line x1="307.5" y1="840.3" x2="308.3" y2="868.1" stroke="#333" stroke-width="1.1"/>
<polygon fill="#0d0d0d" points="551.0,956.4 562.4,951.3 563.4,977.7 553.2,987.8"/>
<polygon fill="#161616" points="562.4,970.8 568.4,967.5 568.4,972.9 563.4,977.7"/>
<polygon fill="#575e6b" points="282.4,856.5 526.7,974.6 526.7,998.5 282.4,878.5"/>
<polygon fill="#49515d" points="282.4,867.3 526.7,986.4 526.7,998.5 282.4,878.5"/>
<polygon fill="#c1c7d0" points="283.4,850.1 526.7,967.9 526.7,974.6 282.4,856.5"/>
<line x1="282.4" y1="856.5" x2="526.7" y2="974.6" stroke="#f4f6f8" stroke-width="1.2"/>
<line x1="282.1" y1="850.6" x2="282.9" y2="878.5" stroke="#333" stroke-width="1.1"/>
<polygon fill="#0d0d0d" points="525.5,967.9 537.3,962.6 538.3,989.2 527.7,999.5"/>
<polygon fill="#161616" points="537.3,982.2 543.7,978.8 543.7,984.2 538.3,989.2"/>
<polygon fill="#585f6b" points="256.8,866.9 500.9,986.3 500.9,1010.3 256.8,889.0"/>
<polygon fill="#4b515e" points="256.8,877.8 500.9,998.2 500.9,1010.3 256.8,889.0"/>
<polygon fill="#bec3cc" points="257.8,860.5 500.9,979.5 500.9,986.3 256.8,866.9"/>
<line x1="256.8" y1="866.9" x2="500.9" y2="986.3" stroke="#f4f6f8" stroke-width="1.2"/>
<line x1="256.5" y1="861.0" x2="257.3" y2="889.0" stroke="#333" stroke-width="1.1"/>
<polygon fill="#0d0d0d" points="499.7,979.5 512.0,974.0 513.0,1000.7 501.9,1011.3"/>
<polygon fill="#161616" points="512.0,993.8 518.7,990.1 518.7,995.6 513.0,1000.7"/>
<polygon fill="#59606c" points="230.8,877.4 474.8,998.1 474.8,1022.3 230.8,899.7"/>
<polygon fill="#4c525f" points="230.8,888.4 474.8,1010.1 474.8,1022.3 230.8,899.7"/>
<polygon fill="#babfc9" points="231.8,871.0 474.8,991.3 474.8,998.1 230.8,877.4"/>
<line x1="230.8" y1="877.4" x2="474.8" y2="998.1" stroke="#f4f6f8" stroke-width="1.2"/>
<line x1="230.5" y1="871.5" x2="231.3" y2="899.7" stroke="#333" stroke-width="1.1"/>
<polygon fill="#0d0d0d" points="473.6,991.3 486.5,985.5 487.5,1012.4 475.8,1023.3"/>
<polygon fill="#161616" points="486.5,1005.4 493.5,1001.6 493.5,1007.1 487.5,1012.4"/>
<polygon fill="#5b616d" points="204.7,888.1 448.4,1010.1 448.4,1034.3 204.7,910.4"/>
<polygon fill="#4d535f" points="204.7,899.1 448.4,1022.1 448.4,1034.3 204.7,910.4"/>
<polygon fill="#b6bcc5" points="205.7,881.6 448.4,1003.3 448.4,1010.1 204.7,888.1"/>
<line x1="204.7" y1="888.1" x2="448.4" y2="1010.1" stroke="#f4f6f8" stroke-width="1.2"/>
<line x1="204.4" y1="882.1" x2="205.2" y2="910.4" stroke="#333" stroke-width="1.1"/>
<polygon fill="#0d0d0d" points="447.2,1003.3 460.6,997.2 461.6,1024.2 449.4,1035.3"/>
<polygon fill="#161616" points="460.6,1017.2 468.0,1013.3 468.0,1018.8 461.6,1024.2"/>
<polygon fill="#5c626e" points="178.2,898.8 421.7,1022.2 421.7,1046.6 178.2,921.3"/>
<polygon fill="#4e5460" points="178.2,909.9 421.7,1034.3 421.7,1046.6 178.2,921.3"/>
<polygon fill="#b2b8c2" points="179.2,892.3 421.7,1015.3 421.7,1022.2 178.2,898.8"/>
<line x1="178.2" y1="898.8" x2="421.7" y2="1022.2" stroke="#f4f6f8" stroke-width="1.2"/>
<line x1="177.9" y1="892.8" x2="178.7" y2="921.3" stroke="#333" stroke-width="1.1"/>
<polygon fill="#0d0d0d" points="420.5,1015.3 434.5,1009.0 435.5,1036.2 422.7,1047.6"/>
<polygon fill="#161616" points="434.5,1029.1 442.2,1025.0 442.2,1030.5 435.5,1036.2"/>
<polygon fill="#262626" points="79.4,1135.9 329.2,1024.6 540,1134.6 540,1146 290.3,1270.4 289,1256 202,1205 203,1192 196,1184 163.5,1183.7 96.2,1147.5 82,1148.8"/>
<polyline fill="none" stroke="#4a4a4a" stroke-width="1.5" points="540,1135 289,1257"/>
<polyline fill="none" stroke="#4a4a4a" stroke-width="1.2" points="79.4,1136 96,1147"/>
<ellipse cx="1458" cy="779" rx="29" ry="18" fill="#606060"/>
<ellipse cx="1452" cy="781" rx="18" ry="10" fill="#262626"/>
<polygon fill="url(#heside)" points="724.5,1172.5 1474.2,782.4 1472.3,833.7 725.2,1229"/>
<polygon fill="url(#streaks)" opacity="0.5" points="724.5,1172.5 1474.2,782.4 1472.3,833.7 725.2,1229"/>
<polyline fill="#161616" stroke="none" points="725.2,1229.0 727.4,1230.8 729.6,1226.7 731.8,1228.5 734.0,1224.3 736.2,1226.2 738.4,1222.0 740.6,1223.9 742.8,1219.7 745.0,1221.5 747.2,1217.4 749.4,1219.2 751.6,1215.0 753.8,1216.9 756.0,1212.7 758.2,1214.6 760.4,1210.4 762.6,1212.2 764.8,1208.1 766.9,1209.9 769.1,1205.7 771.3,1207.6 773.5,1203.4 775.7,1205.3 777.9,1201.1 780.1,1202.9 782.3,1198.8 784.5,1200.6 786.7,1196.4 788.9,1198.3 791.1,1194.1 793.3,1196.0 795.5,1191.8 797.7,1193.6 799.9,1189.5 802.1,1191.3 804.3,1187.1 806.5,1189.0 808.7,1184.8 810.9,1186.7 813.1,1182.5 815.3,1184.3 817.5,1180.2 819.7,1182.0 821.9,1177.8 824.1,1179.7 826.3,1175.5 828.5,1177.4 830.7,1173.2 832.9,1175.0 835.1,1170.9 837.3,1172.7 839.5,1168.5 841.7,1170.4 843.9,1166.2 846.1,1168.1 848.3,1163.9 850.4,1165.7 852.6,1161.6 854.8,1163.4 857.0,1159.2 859.2,1161.1 861.4,1156.9 863.6,1158.8 865.8,1154.6 868.0,1156.4 870.2,1152.3 872.4,1154.1 874.6,1149.9 876.8,1151.8 879.0,1147.6 881.2,1149.5 883.4,1145.3 885.6,1147.1 887.8,1143.0 890.0,1144.8 892.2,1140.6 894.4,1142.5 896.6,1138.3 898.8,1140.2 901.0,1136.0 903.2,1137.8 905.4,1133.7 907.6,1135.5 909.8,1131.3 912.0,1133.2 914.2,1129.0 916.4,1130.8 918.6,1126.7 920.8,1128.5 923.0,1124.4 925.2,1126.2 927.4,1122.0 929.6,1123.9 931.8,1119.7 933.9,1121.5 936.1,1117.4 938.3,1119.2 940.5,1115.1 942.7,1116.9 944.9,1112.7 947.1,1114.6 949.3,1110.4 951.5,1112.2 953.7,1108.1 955.9,1109.9 958.1,1105.8 960.3,1107.6 962.5,1103.4 964.7,1105.3 966.9,1101.1 969.1,1102.9 971.3,1098.8 973.5,1100.6 975.7,1096.5 977.9,1098.3 980.1,1094.1 982.3,1096.0 984.5,1091.8 986.7,1093.6 988.9,1089.5 991.1,1091.3 993.3,1087.2 995.5,1089.0 997.7,1084.8 999.9,1086.7 1002.1,1082.5 1004.3,1084.3 1006.5,1080.2 1008.7,1082.0 1010.9,1077.9 1013.1,1079.7 1015.3,1075.5 1017.4,1077.4 1019.6,1073.2 1021.8,1075.0 1024.0,1070.9 1026.2,1072.7 1028.4,1068.6 1030.6,1070.4 1032.8,1066.2 1035.0,1068.1 1037.2,1063.9 1039.4,1065.7 1041.6,1061.6 1043.8,1063.4 1046.0,1059.3 1048.2,1061.1 1050.4,1056.9 1052.6,1058.8 1054.8,1054.6 1057.0,1056.4 1059.2,1052.3 1061.4,1054.1 1063.6,1050.0 1065.8,1051.8 1068.0,1047.6 1070.2,1049.5 1072.4,1045.3 1074.6,1047.1 1076.8,1043.0 1079.0,1044.8 1081.2,1040.7 1083.4,1042.5 1085.6,1038.3 1087.8,1040.2 1090.0,1036.0 1092.2,1037.8 1094.4,1033.7 1096.6,1035.5 1098.8,1031.3 1100.9,1033.2 1103.1,1029.0 1105.3,1030.9 1107.5,1026.7 1109.7,1028.5 1111.9,1024.4 1114.1,1026.2 1116.3,1022.0 1118.5,1023.9 1120.7,1019.7 1122.9,1021.6 1125.1,1017.4 1127.3,1019.2 1129.5,1015.1 1131.7,1016.9 1133.9,1012.7 1136.1,1014.6 1138.3,1010.4 1140.5,1012.3 1142.7,1008.1 1144.9,1009.9 1147.1,1005.8 1149.3,1007.6 1151.5,1003.4 1153.7,1005.3 1155.9,1001.1 1158.1,1003.0 1160.3,998.8 1162.5,1000.6 1164.7,996.5 1166.9,998.3 1169.1,994.1 1171.3,996.0 1173.5,991.8 1175.7,993.7 1177.9,989.5 1180.1,991.3 1182.2,987.2 1184.4,989.0 1186.6,984.8 1188.8,986.7 1191.0,982.5 1193.2,984.4 1195.4,980.2 1197.6,982.0 1199.8,977.9 1202.0,979.7 1204.2,975.5 1206.4,977.4 1208.6,973.2 1210.8,975.1 1213.0,970.9 1215.2,972.7 1217.4,968.6 1219.6,970.4 1221.8,966.2 1224.0,968.1 1226.2,963.9 1228.4,965.8 1230.6,961.6 1232.8,963.4 1235.0,959.3 1237.2,961.1 1239.4,956.9 1241.6,958.8 1243.8,954.6 1246.0,956.5 1248.2,952.3 1250.4,954.1 1252.6,950.0 1254.8,951.8 1257.0,947.6 1259.2,949.5 1261.4,945.3 1263.6,947.2 1265.7,943.0 1267.9,944.8 1270.1,940.7 1272.3,942.5 1274.5,938.3 1276.7,940.2 1278.9,936.0 1281.1,937.9 1283.3,933.7 1285.5,935.5 1287.7,931.4 1289.9,933.2 1292.1,929.0 1294.3,930.9 1296.5,926.7 1298.7,928.5 1300.9,924.4 1303.1,926.2 1305.3,922.1 1307.5,923.9 1309.7,919.7 1311.9,921.6 1314.1,917.4 1316.3,919.2 1318.5,915.1 1320.7,916.9 1322.9,912.8 1325.1,914.6 1327.3,910.4 1329.5,912.3 1331.7,908.1 1333.9,909.9 1336.1,905.8 1338.3,907.6 1340.5,903.5 1342.7,905.3 1344.9,901.1 1347.1,903.0 1349.2,898.8 1351.4,900.6 1353.6,896.5 1355.8,898.3 1358.0,894.2 1360.2,896.0 1362.4,891.8 1364.6,893.7 1366.8,889.5 1369.0,891.3 1371.2,887.2 1373.4,889.0 1375.6,884.9 1377.8,886.7 1380.0,882.5 1382.2,884.4 1384.4,880.2 1386.6,882.0 1388.8,877.9 1391.0,879.7 1393.2,875.6 1395.4,877.4 1397.6,873.2 1399.8,875.1 1402.0,870.9 1404.2,872.7 1406.4,868.6 1408.6,870.4 1410.8,866.3 1413.0,868.1 1415.2,863.9 1417.4,865.8 1419.6,861.6 1421.8,863.4 1424.0,859.3 1426.2,861.1 1428.4,857.0 1430.6,858.8 1432.7,854.6 1434.9,856.5 1437.1,852.3 1439.3,854.1 1441.5,850.0 1443.7,851.8 1445.9,847.7 1448.1,849.5 1450.3,845.3 1452.5,847.2 1454.7,843.0 1456.9,844.8 1459.1,840.7 1461.3,842.5 1463.5,838.4 1465.7,840.2 1467.9,836.0 1470.1,837.9 1472.3,833.7"/>
<polygon fill="url(#hetop)" points="630.3,1123.9 1385.7,750.7 1474.2,782.4 724.5,1172.5"/>
<polygon fill="url(#dots)" opacity="0.55" points="630.3,1123.9 1385.7,750.7 1474.2,782.4 724.5,1172.5"/>
<polyline fill="#1a1a1a" stroke="none" points="630.3,1123.9 632.8,1119.5 635.3,1121.4 637.9,1117.0 640.4,1118.9 642.9,1114.5 645.4,1116.4 647.9,1112.0 650.4,1113.9 653.0,1109.5 655.5,1111.5 658.0,1107.0 660.5,1109.0 663.0,1104.5 665.6,1106.5 668.1,1102.0 670.6,1104.0 673.1,1099.6 675.6,1101.5 678.1,1097.1 680.7,1099.0 683.2,1094.6 685.7,1096.5 688.2,1092.1 690.7,1094.0 693.2,1089.6 695.8,1091.6 698.3,1087.1 700.8,1089.1 703.3,1084.6 705.8,1086.6 708.4,1082.1 710.9,1084.1 713.4,1079.6 715.9,1081.6 718.4,1077.2 720.9,1079.1 723.5,1074.7 726.0,1076.6 728.5,1072.2 731.0,1074.1 733.5,1069.7 736.1,1071.7 738.6,1067.2 741.1,1069.2 743.6,1064.7 746.1,1066.7 748.6,1062.2 751.2,1064.2 753.7,1059.7 756.2,1061.7 758.7,1057.3 761.2,1059.2 763.8,1054.8 766.3,1056.7 768.8,1052.3 771.3,1054.2 773.8,1049.8 776.3,1051.7 778.9,1047.3 781.4,1049.3 783.9,1044.8 786.4,1046.8 788.9,1042.3 791.5,1044.3 794.0,1039.8 796.5,1041.8 799.0,1037.4 801.5,1039.3 804.0,1034.9 806.6,1036.8 809.1,1032.4 811.6,1034.3 814.1,1029.9 816.6,1031.8 819.1,1027.4 821.7,1029.4 824.2,1024.9 826.7,1026.9 829.2,1022.4 831.7,1024.4 834.3,1019.9 836.8,1021.9 839.3,1017.4 841.8,1019.4 844.3,1015.0 846.8,1016.9 849.4,1012.5 851.9,1014.4 854.4,1010.0 856.9,1011.9 859.4,1007.5 862.0,1009.5 864.5,1005.0 867.0,1007.0 869.5,1002.5 872.0,1004.5 874.5,1000.0 877.1,1002.0 879.6,997.5 882.1,999.5 884.6,995.1 887.1,997.0 889.7,992.6 892.2,994.5 894.7,990.1 897.2,992.0 899.7,987.6 902.2,989.5 904.8,985.1 907.3,987.1 909.8,982.6 912.3,984.6 914.8,980.1 917.4,982.1 919.9,977.6 922.4,979.6 924.9,975.2 927.4,977.1 929.9,972.7 932.5,974.6 935.0,970.2 937.5,972.1 940.0,967.7 942.5,969.6 945.0,965.2 947.6,967.2 950.1,962.7 952.6,964.7 955.1,960.2 957.6,962.2 960.2,957.7 962.7,959.7 965.2,955.2 967.7,957.2 970.2,952.8 972.7,954.7 975.3,950.3 977.8,952.2 980.3,947.8 982.8,949.7 985.3,945.3 987.9,947.3 990.4,942.8 992.9,944.8 995.4,940.3 997.9,942.3 1000.4,937.8 1003.0,939.8 1005.5,935.3 1008.0,937.3 1010.5,932.9 1013.0,934.8 1015.6,930.4 1018.1,932.3 1020.6,927.9 1023.1,929.8 1025.6,925.4 1028.1,927.3 1030.7,922.9 1033.2,924.9 1035.7,920.4 1038.2,922.4 1040.7,917.9 1043.3,919.9 1045.8,915.4 1048.3,917.4 1050.8,913.0 1053.3,914.9 1055.8,910.5 1058.4,912.4 1060.9,908.0 1063.4,909.9 1065.9,905.5 1068.4,907.4 1071.0,903.0 1073.5,905.0 1076.0,900.5 1078.5,902.5 1081.0,898.0 1083.5,900.0 1086.1,895.5 1088.6,897.5 1091.1,893.0 1093.6,895.0 1096.1,890.6 1098.6,892.5 1101.2,888.1 1103.7,890.0 1106.2,885.6 1108.7,887.5 1111.2,883.1 1113.8,885.1 1116.3,880.6 1118.8,882.6 1121.3,878.1 1123.8,880.1 1126.3,875.6 1128.9,877.6 1131.4,873.1 1133.9,875.1 1136.4,870.7 1138.9,872.6 1141.5,868.2 1144.0,870.1 1146.5,865.7 1149.0,867.6 1151.5,863.2 1154.0,865.1 1156.6,860.7 1159.1,862.7 1161.6,858.2 1164.1,860.2 1166.6,855.7 1169.2,857.7 1171.7,853.2 1174.2,855.2 1176.7,850.8 1179.2,852.7 1181.7,848.3 1184.3,850.2 1186.8,845.8 1189.3,847.7 1191.8,843.3 1194.3,845.2 1196.8,840.8 1199.4,842.8 1201.9,838.3 1204.4,840.3 1206.9,835.8 1209.4,837.8 1212.0,833.3 1214.5,835.3 1217.0,830.8 1219.5,832.8 1222.0,828.4 1224.5,830.3 1227.1,825.9 1229.6,827.8 1232.1,823.4 1234.6,825.3 1237.1,820.9 1239.7,822.9 1242.2,818.4 1244.7,820.4 1247.2,815.9 1249.7,817.9 1252.2,813.4 1254.8,815.4 1257.3,810.9 1259.8,812.9 1262.3,808.5 1264.8,810.4 1267.4,806.0 1269.9,807.9 1272.4,803.5 1274.9,805.4 1277.4,801.0 1279.9,802.9 1282.5,798.5 1285.0,800.5 1287.5,796.0 1290.0,798.0 1292.5,793.5 1295.1,795.5 1297.6,791.0 1300.1,793.0 1302.6,788.6 1305.1,790.5 1307.6,786.1 1310.2,788.0 1312.7,783.6 1315.2,785.5 1317.7,781.1 1320.2,783.0 1322.8,778.6 1325.3,780.6 1327.8,776.1 1330.3,778.1 1332.8,773.6 1335.3,775.6 1337.9,771.1 1340.4,773.1 1342.9,768.6 1345.4,770.6 1347.9,766.2 1350.4,768.1 1353.0,763.7 1355.5,765.6 1358.0,761.2 1360.5,763.1 1363.0,758.7 1365.6,760.7 1368.1,756.2 1370.6,758.2 1373.1,753.7 1375.6,755.7 1378.1,751.2 1380.7,753.2 1383.2,748.7 1385.7,750.7"/>
<polygon fill="#3e3e40" points="630.3,1123.9 724.5,1172.5 725.2,1229 632.1,1163"/>
<polyline fill="none" stroke="#2c2c2e" stroke-width="2" points="632,1135 724,1183"/>
<polyline fill="none" stroke="#2c2c2e" stroke-width="2" points="632,1148 724,1196"/>
<polyline fill="none" stroke="#555" stroke-width="1" points="632,1138 724,1186"/>
<line x1="661" y1="1159" x2="618" y2="1180" stroke="#3a3a3a" stroke-width="13"/>
<line x1="709" y1="1183" x2="666" y2="1206" stroke="#3a3a3a" stroke-width="13"/>
<polygon fill="#c2a552" points="578,1178 600,1166 625,1168 632,1190 620,1208 592,1216 576,1202"/>
<ellipse cx="588" cy="1194" rx="11" ry="15" fill="#6e5426"/><ellipse cx="588" cy="1194" rx="7" ry="11" fill="#4a3818"/>
<polygon fill="#c7ab58" points="600,1163 612,1158 622,1166 616,1176 604,1176"/>
<polygon fill="#c2a552" points="625,1200 650,1186 673,1190 680,1212 668,1232 640,1241 623,1226"/>
<ellipse cx="636" cy="1218" rx="11" ry="15" fill="#6e5426"/><ellipse cx="636" cy="1218" rx="7" ry="11" fill="#4a3818"/>
<circle cx="651" cy="1183" r="6" fill="#dcdcdc"/><circle cx="650" cy="1184" r="3" fill="#333"/>
<ellipse cx="562" cy="1212" rx="16" ry="16.5" fill="#e01c22"/>
<ellipse cx="556" cy="1215" rx="11" ry="13" fill="#c8141a"/>
<ellipse cx="608" cy="1238" rx="16" ry="16.5" fill="#e01c22"/>
<ellipse cx="602" cy="1241" rx="11" ry="13" fill="#c8141a"/>
<polygon fill="url(#bodyface)" points="835.4,1687 1800,1058 1796,1106 827.5,1757.4"/>
<polygon fill="#1e1e1e" points="590,1528 835.4,1687 827.5,1757.4 614.6,1623.7 609,1550"/>
<polygon fill="#141414" points="613,1611.6 826.8,1745.6 827.5,1757.4 614.6,1623.7"/>
<polygon fill="#303030" stroke="#0e0e0e" stroke-width="1.2" points="649.0,1575.0 686.0,1598.0 686.0,1625.0 649.0,1602.0"/>
<polygon fill="#303030" stroke="#0e0e0e" stroke-width="1.2" points="698.0,1604.0 735.0,1627.0 735.0,1654.0 698.0,1631.0"/>
<polygon fill="#303030" stroke="#0e0e0e" stroke-width="1.2" points="738.0,1627.0 775.0,1650.0 775.0,1677.0 738.0,1654.0"/>
<polygon fill="#303030" stroke="#0e0e0e" stroke-width="1.2" points="782.0,1655.0 819.0,1678.0 819.0,1705.0 782.0,1682.0"/>
<polyline fill="none" stroke="#555" stroke-width="1.2" points="613,1611.6 826.8,1745.6"/>
<polyline fill="none" stroke="#888" stroke-width="1.2" points="836,1688 828,1757"/>
<polygon fill="#141414" points="599.0,1517.0 1587.0,951.0 1580.0,1068.0 676.0,1563.0"/>
<polyline fill="none" stroke="#3a3a3a" stroke-width="2" points="604,1535 1586,968"/>
<polyline fill="none" stroke="#2a2a2a" stroke-width="1" points="660,1555 1583,1038"/>
<polygon fill="#181818" points="1587.0,951.0 1804.0,1034.0 1687.0,1110.0 1580.0,1068.0"/>
<polygon fill="url(#floor)" points="676.0,1563.0 1580.0,1068.0 1687.0,1110.0 835.4,1659.0"/>
<polygon fill="url(#floorshade)" points="676.0,1563.0 1580.0,1068.0 1687.0,1110.0 835.4,1659.0"/>
<polygon fill="#0c0c0c" points="966,1341.5 981.5,1332.4 1010.5,1347.8 1012.3,1375 1026.8,1387.7 1030.5,1358.7 1045,1366 1048.6,1402.2 1124.7,1436.6 1124.7,1409.5 1141,1415 1145.5,1424 1146.4,1447 1161,1431 1179,1438.4 1190,1436 1190,1445 1124.7,1472 987,1402 967,1395"/>
<polyline fill="none" stroke="#2a2a2a" stroke-width="1.2" points="1555,1072 1560,1020 1580,1010 1590,1040 1600,1075 1660,1100"/>
<polygon fill="none" stroke="#cfcfcf" stroke-width="1.2" stroke-dasharray="3,2" points="668,1553 668,1533 741,1487 742,1527 696,1555"/>
<ellipse cx="786" cy="1475" rx="9" ry="12" fill="none" stroke="#cfcfcf" stroke-width="1.2" stroke-dasharray="4,2"/>
<polygon fill="#c4c6ca" points="586.4,1516.3 836.3,1673.5 835.4,1687.0 589.5,1527.5"/>
<polygon fill="#c8cace" points="836.3,1673.5 1823.5,1029.0 1821.5,1044.0 835.4,1687.0"/>
<polyline fill="none" stroke="#555" stroke-width="1" points="836,1674 1823,1030"/>
<polygon fill="#3c3c3e" points="586.4,1516.3 1587.0,939.0 1587.0,951.0 599.0,1517.0"/>
<polygon fill="#3c3c3e" points="1587.0,939.0 1823.5,1029.0 1804.0,1034.0 1587.0,951.0"/>
<polygon fill="#dcdde2" points="586.4,1516.3 836.3,1673.5 835.4,1659.0 599.0,1517.0"/>
<polygon fill="#e2e3e8" points="836.3,1673.5 1823.5,1029.0 1804.0,1034.0 835.4,1659.0"/>
<polyline fill="none" stroke="#e8e8ea" stroke-width="1.5" points="586.4,1516.3 1587.0,939.0 1823.5,1029.0"/>
<ellipse cx="716" cy="1572" rx="7" ry="8" fill="#555" stroke="#222" stroke-width="1"/><ellipse cx="716" cy="1566" rx="6" ry="3" fill="#999"/>
<circle cx="1188" cy="1465" r="3.2" fill="#a8a8a8" stroke="#333" stroke-width="1"/>
<circle cx="1188" cy="1496" r="3.2" fill="#a8a8a8" stroke="#333" stroke-width="1"/>
<circle cx="1041" cy="1560" r="3.2" fill="#a8a8a8" stroke="#333" stroke-width="1"/>
<circle cx="1778" cy="1078" r="3.2" fill="#a8a8a8" stroke="#333" stroke-width="1"/>
<circle cx="1762" cy="1089" r="3.2" fill="#a8a8a8" stroke="#333" stroke-width="1"/>
<circle cx="1775" cy="1106" r="3.2" fill="#a8a8a8" stroke="#333" stroke-width="1"/>
<circle cx="1759" cy="1117" r="3.2" fill="#a8a8a8" stroke="#333" stroke-width="1"/>
<circle cx="1793" cy="1106" r="3.2" fill="#a8a8a8" stroke="#333" stroke-width="1"/>
<circle cx="618" cy="1559" r="3.2" fill="#a8a8a8" stroke="#333" stroke-width="1"/>
<circle cx="622" cy="1610" r="3.2" fill="#a8a8a8" stroke="#333" stroke-width="1"/>
<circle cx="651" cy="1636" r="3.2" fill="#a8a8a8" stroke="#333" stroke-width="1"/>
<circle cx="802" cy="1731" r="3.2" fill="#a8a8a8" stroke="#333" stroke-width="1"/>
<circle cx="834" cy="1692" r="3.2" fill="#a8a8a8" stroke="#333" stroke-width="1"/>
<circle cx="853" cy="1685" r="3.2" fill="#a8a8a8" stroke="#333" stroke-width="1"/>
<circle cx="855" cy="1718" r="3.2" fill="#a8a8a8" stroke="#333" stroke-width="1"/>
<circle cx="836" cy="1742" r="3.2" fill="#a8a8a8" stroke="#333" stroke-width="1"/>
<polygon fill="#e8e8e8" points="797,1639 880,1587 917,1612 835,1662"/>
<polygon fill="#888" points="858,1600 872,1592 880,1597 866,1606"/>
<line x1="1600" y1="859" x2="1594" y2="922" stroke="#333" stroke-width="8.5" stroke-linecap="round"/>
<line x1="1600" y1="859" x2="1594" y2="922" stroke="#b0b0b0" stroke-width="5.5" stroke-dasharray="2,1.5"/>
<ellipse cx="1600" cy="859" rx="6" ry="4.5" fill="#999" stroke="#333" stroke-width="1.2"/>
<line x1="1784" y1="933" x2="1777" y2="995" stroke="#333" stroke-width="8.5" stroke-linecap="round"/>
<line x1="1784" y1="933" x2="1777" y2="995" stroke="#b0b0b0" stroke-width="5.5" stroke-dasharray="2,1.5"/>
<ellipse cx="1784" cy="933" rx="6" ry="4.5" fill="#999" stroke="#333" stroke-width="1.2"/>
<line x1="702" y1="1366" x2="706" y2="1439" stroke="#333" stroke-width="8.5" stroke-linecap="round"/>
<line x1="702" y1="1366" x2="706" y2="1439" stroke="#b0b0b0" stroke-width="5.5" stroke-dasharray="2,1.5"/>
<ellipse cx="702" cy="1366" rx="6" ry="4.5" fill="#999" stroke="#333" stroke-width="1.2"/>
<line x1="894" y1="1479" x2="897" y2="1550" stroke="#333" stroke-width="8.5" stroke-linecap="round"/>
<line x1="894" y1="1479" x2="897" y2="1550" stroke="#b0b0b0" stroke-width="5.5" stroke-dasharray="2,1.5"/>
<ellipse cx="894" cy="1479" rx="6" ry="4.5" fill="#999" stroke="#333" stroke-width="1.2"/>
<polygon fill="#1c1c1c" points="1852.1,1101.1 1865.3,1093.2 1858.7,1154.8 1845.5,1162.7"/>
<polygon fill="#ffffff" points="1856.5,1104.3 1859.6,1102.4 1854.7,1148.6 1851.5,1150.5"/>
<polygon fill="#262626" points="1845.5,1162.7 1861.4,1170.6 1875.4,1164.0 1859.6,1156.6"/>
<line x1="1857" y1="1197" x2="1853" y2="1234" stroke="#1e1e1e" stroke-width="9" stroke-linecap="round"/>
<line x1="1858" y1="1172" x2="1857" y2="1186" stroke="#888" stroke-width="2.5"/>
<ellipse cx="1903" cy="1151" rx="5" ry="9" fill="none" stroke="#aaa" stroke-width="1.2" stroke-dasharray="3,2"/>
<ellipse cx="1919" cy="1158" rx="4.5" ry="6.5" fill="none" stroke="#555" stroke-width="2"/>
<line x1="1933" y1="1164" x2="1950" y2="1173" stroke="#666" stroke-width="3.5"/>
<ellipse cx="1951" cy="1173" rx="3" ry="6" fill="#aaa" stroke="#444" stroke-width="1"/>
<polygon fill="#1c1c1c" points="556.0,1506.7 576.8,1495.7 581.4,1551.3 560.6,1562.3"/>
<polygon fill="#ffffff" points="564.4,1508.1 569.4,1505.4 572.8,1547.1 567.8,1549.8"/>
<polygon fill="#262626" points="546.3,1566.2 566.4,1576.6 583.2,1562.3 565.0,1553.0"/>
<line x1="566" y1="1600" x2="569" y2="1643" stroke="#1e1e1e" stroke-width="10" stroke-linecap="round"/>
<line x1="565" y1="1577" x2="566" y2="1590" stroke="#999" stroke-width="3"/>
<line x1="497" y1="1494" x2="514" y2="1505" stroke="#999" stroke-width="7" stroke-linecap="round"/>
<circle cx="495" cy="1493" r="6" fill="#888"/>
<ellipse cx="524" cy="1511" rx="6" ry="7.5" fill="none" stroke="#777" stroke-width="2.5"/>
<ellipse cx="539" cy="1521" rx="8" ry="11" fill="#777"/><ellipse cx="539" cy="1521" rx="2.5" ry="3.5" fill="#fff"/>
<polygon fill="#1c1c1c" points="925.1,1728.8 946.0,1716.0 947.3,1790.7 926.4,1803.5"/>
<polygon fill="#ffffff" points="933.2,1731.4 938.2,1728.3 939.2,1784.4 934.1,1787.4"/>
<polygon fill="#262626" points="926.4,1803.5 950.0,1813.6 967.5,1800.8 944.6,1789.4"/>
<line x1="950" y1="1834" x2="951" y2="1885" stroke="#1e1e1e" stroke-width="10" stroke-linecap="round"/>
<line x1="949" y1="1813" x2="949" y2="1825" stroke="#999" stroke-width="3"/>
<circle cx="947" cy="1786" r="5" fill="#bbb"/>
<ellipse cx="989" cy="1793" rx="8.5" ry="12" fill="#6e6e6e"/><ellipse cx="989" cy="1793" rx="2.5" ry="3.5" fill="#fff"/>
<ellipse cx="1006" cy="1804" rx="6.5" ry="9" fill="none" stroke="#666" stroke-width="2.5"/>
<line x1="1020" y1="1811" x2="1038" y2="1822" stroke="#9a9a9a" stroke-width="7" stroke-linecap="round"/>
<polygon fill="#8a8a8a" points="1036,1818 1046,1815 1049,1826 1046,1834 1037,1832"/>
<ellipse cx="1082" cy="1648.6" rx="16" ry="19" fill="#a0a0a0" stroke="#555" stroke-width="1.5" transform="rotate(20 1082 1648.6)"/>
<ellipse cx="1084" cy="1650.0" rx="12" ry="15" fill="none" stroke="#666" stroke-width="1.2" transform="rotate(20 1082 1648.6)"/>
<ellipse cx="1086" cy="1651.0" rx="8.5" ry="11" fill="none" stroke="#666" stroke-width="1.2" transform="rotate(20 1082 1648.6)"/>
<ellipse cx="1087.5" cy="1651.75" rx="5" ry="7" fill="none" stroke="#666" stroke-width="1.2" transform="rotate(20 1082 1648.6)"/>
<polyline fill="none" stroke="#000" stroke-width="2.4" points="1707.5,325 1707.5,810.7 1474,810.7"/>
<line x1="620" y1="560" x2="620" y2="721" stroke="#000" stroke-width="2.4"/>
<circle cx="620" cy="721" r="5" fill="#000"/>
<line x1="1143" y1="1706.4" x2="817" y2="1706.4" stroke="#000" stroke-width="2.4"/>
<circle cx="817" cy="1706.4" r="5" fill="#000"/>
<text x="1191.2" y="216.4" textLength="615.8" lengthAdjust="spacingAndGlyphs">Высокоэффективный</text>
<text x="1190" y="290.6" textLength="449.0" lengthAdjust="spacingAndGlyphs">теплообменник</text>
<text x="227.8" y="451.6" textLength="554.2" lengthAdjust="spacingAndGlyphs">Травмобезопасная</text>
<text x="228.8" y="526.2" textLength="674.2" lengthAdjust="spacingAndGlyphs">заглушка торца ламели</text>
<text x="1162.8" y="1681.7" textLength="448.2" lengthAdjust="spacingAndGlyphs">Универсальные</text>
<text x="1162.8" y="1756.8" textLength="647.8" lengthAdjust="spacingAndGlyphs">монтажные отверстия</text>
</svg>
</body></html>
